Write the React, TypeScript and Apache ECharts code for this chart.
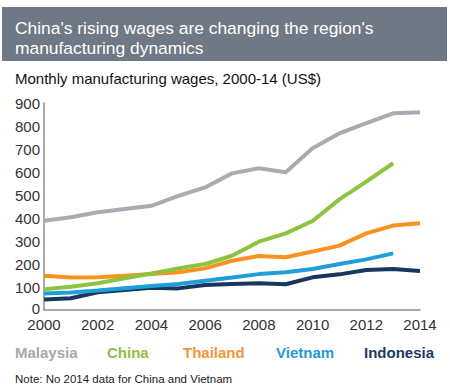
import React, { useEffect, useRef } from "react";
import * as echarts from "echarts";

const years = ["2000","2001","2002","2003","2004","2005","2006","2007","2008","2009","2010","2011","2012","2013","2014"];
const malaysia = [388, 403, 425, 439, 453, 496, 533, 594, 616, 599, 703, 768, 812, 855, 860];
const china = [90, 101, 116, 138, 159, 181, 200, 236, 297, 333, 387, 481, 558, 638, null];
const thailand = [149, 141, 142, 149, 156, 164, 181, 214, 235, 229, 254, 280, 333, 367, 377];
const vietnam = [72, 76, 85, 95, 104, 113, 127, 141, 156, 164, 178, 200, 220, 246, null];
const indonesia = [46, 51, 77, 87, 97, 94, 109, 113, 116, 112, 142, 155, 174, 178, 170];

const seriesNames = ["Malaysia", "China", "Thailand", "Vietnam", "Indonesia"];
const seriesColors = ["#a8abb0", "#8cc43f", "#f7931e", "#1e9fd9", "#17375e"];
const legendColors = ["#a6a9ae", "#8fc045", "#f4953a", "#1f9ad6", "#1c3a63"];

const titleLines = ["China's rising wages are changing the region's", "manufacturing dynamics"];
const subtitle = "Monthly manufacturing wages, 2000-14 (US$)";
const note = "Note: No 2014 data for China and Vietnam";

export default function App() {
  const ref = useRef<HTMLDivElement>(null);
  useEffect(() => {
    if (!ref.current) return;
    const chart = echarts.init(ref.current, null, { renderer: "svg" });
    const data = [malaysia, china, thailand, vietnam, indonesia];
    const legendX = [15, 107, 183, 276, 364];
    const font = "'Liberation Sans', Arial, sans-serif";
    chart.setOption({
      animation: false,
      backgroundColor: "#ffffff",
      grid: { left: 44, right: 30, top: 103, bottom: 79, containLabel: false },
      xAxis: {
        type: "category",
        data: years,
        boundaryGap: false,
        axisLine: { show: true, lineStyle: { color: "#8a8d93", width: 1.5 } },
        axisTick: { show: false },
        axisLabel: { interval: 1, color: "#333", fontSize: 15, fontFamily: font, margin: 7 },
        splitLine: { show: false },
      },
      yAxis: {
        type: "value",
        min: 0,
        max: 900,
        interval: 100,
        axisLine: { show: true, lineStyle: { color: "#8a8d93", width: 1.5 } },
        axisTick: { show: false },
        axisLabel: {
          color: "#333",
          fontSize: 15,
          fontFamily: font,
          margin: 4,
          formatter: (v: number) => (v === 0 ? "{z|0}" : String(v)),
          rich: { z: { color: "#333", fontSize: 15, fontFamily: font, padding: [0, 0, 4, 0] } },
        },
        splitLine: { show: false },
      },
      series: seriesNames.map((name, i) => ({
        name,
        type: "line",
        data: data[i],
        symbol: "none",
        connectNulls: false,
        lineStyle: { color: seriesColors[i], width: 4 },
        itemStyle: { color: seriesColors[i] },
        z: 10 - i,
      })),
      graphic: [
        { type: "rect", shape: { x: 2, y: 7, width: 445, height: 54 }, style: { fill: "#6f7885" } },
        { type: "text", x: 15, y: 28, style: { text: titleLines[0], fill: "#fff", font: `17.4px ${font}`, textVerticalAlign: "middle" } },
        { type: "text", x: 15, y: 47.5, style: { text: titleLines[1], fill: "#fff", font: `17.4px ${font}`, textVerticalAlign: "middle" } },
        { type: "text", x: 15, y: 78, style: { text: subtitle, fill: "#111", font: `15px ${font}`, textVerticalAlign: "middle" } },
        ...seriesNames.map((name, i) => ({
          type: "text", x: legendX[i], y: 352,
          style: { text: name, fill: legendColors[i], font: `bold 15px ${font}`, textVerticalAlign: "middle" },
        })),
        { type: "text", x: 15, y: 379, style: { text: note, fill: "#222", font: `11.5px ${font}`, textVerticalAlign: "middle" } },
      ],
    });
    return () => chart.dispose();
  }, []);
  return <div ref={ref} style={{ position: "fixed", left: 0, top: 0, width: 450, height: 389 }} />;
}
